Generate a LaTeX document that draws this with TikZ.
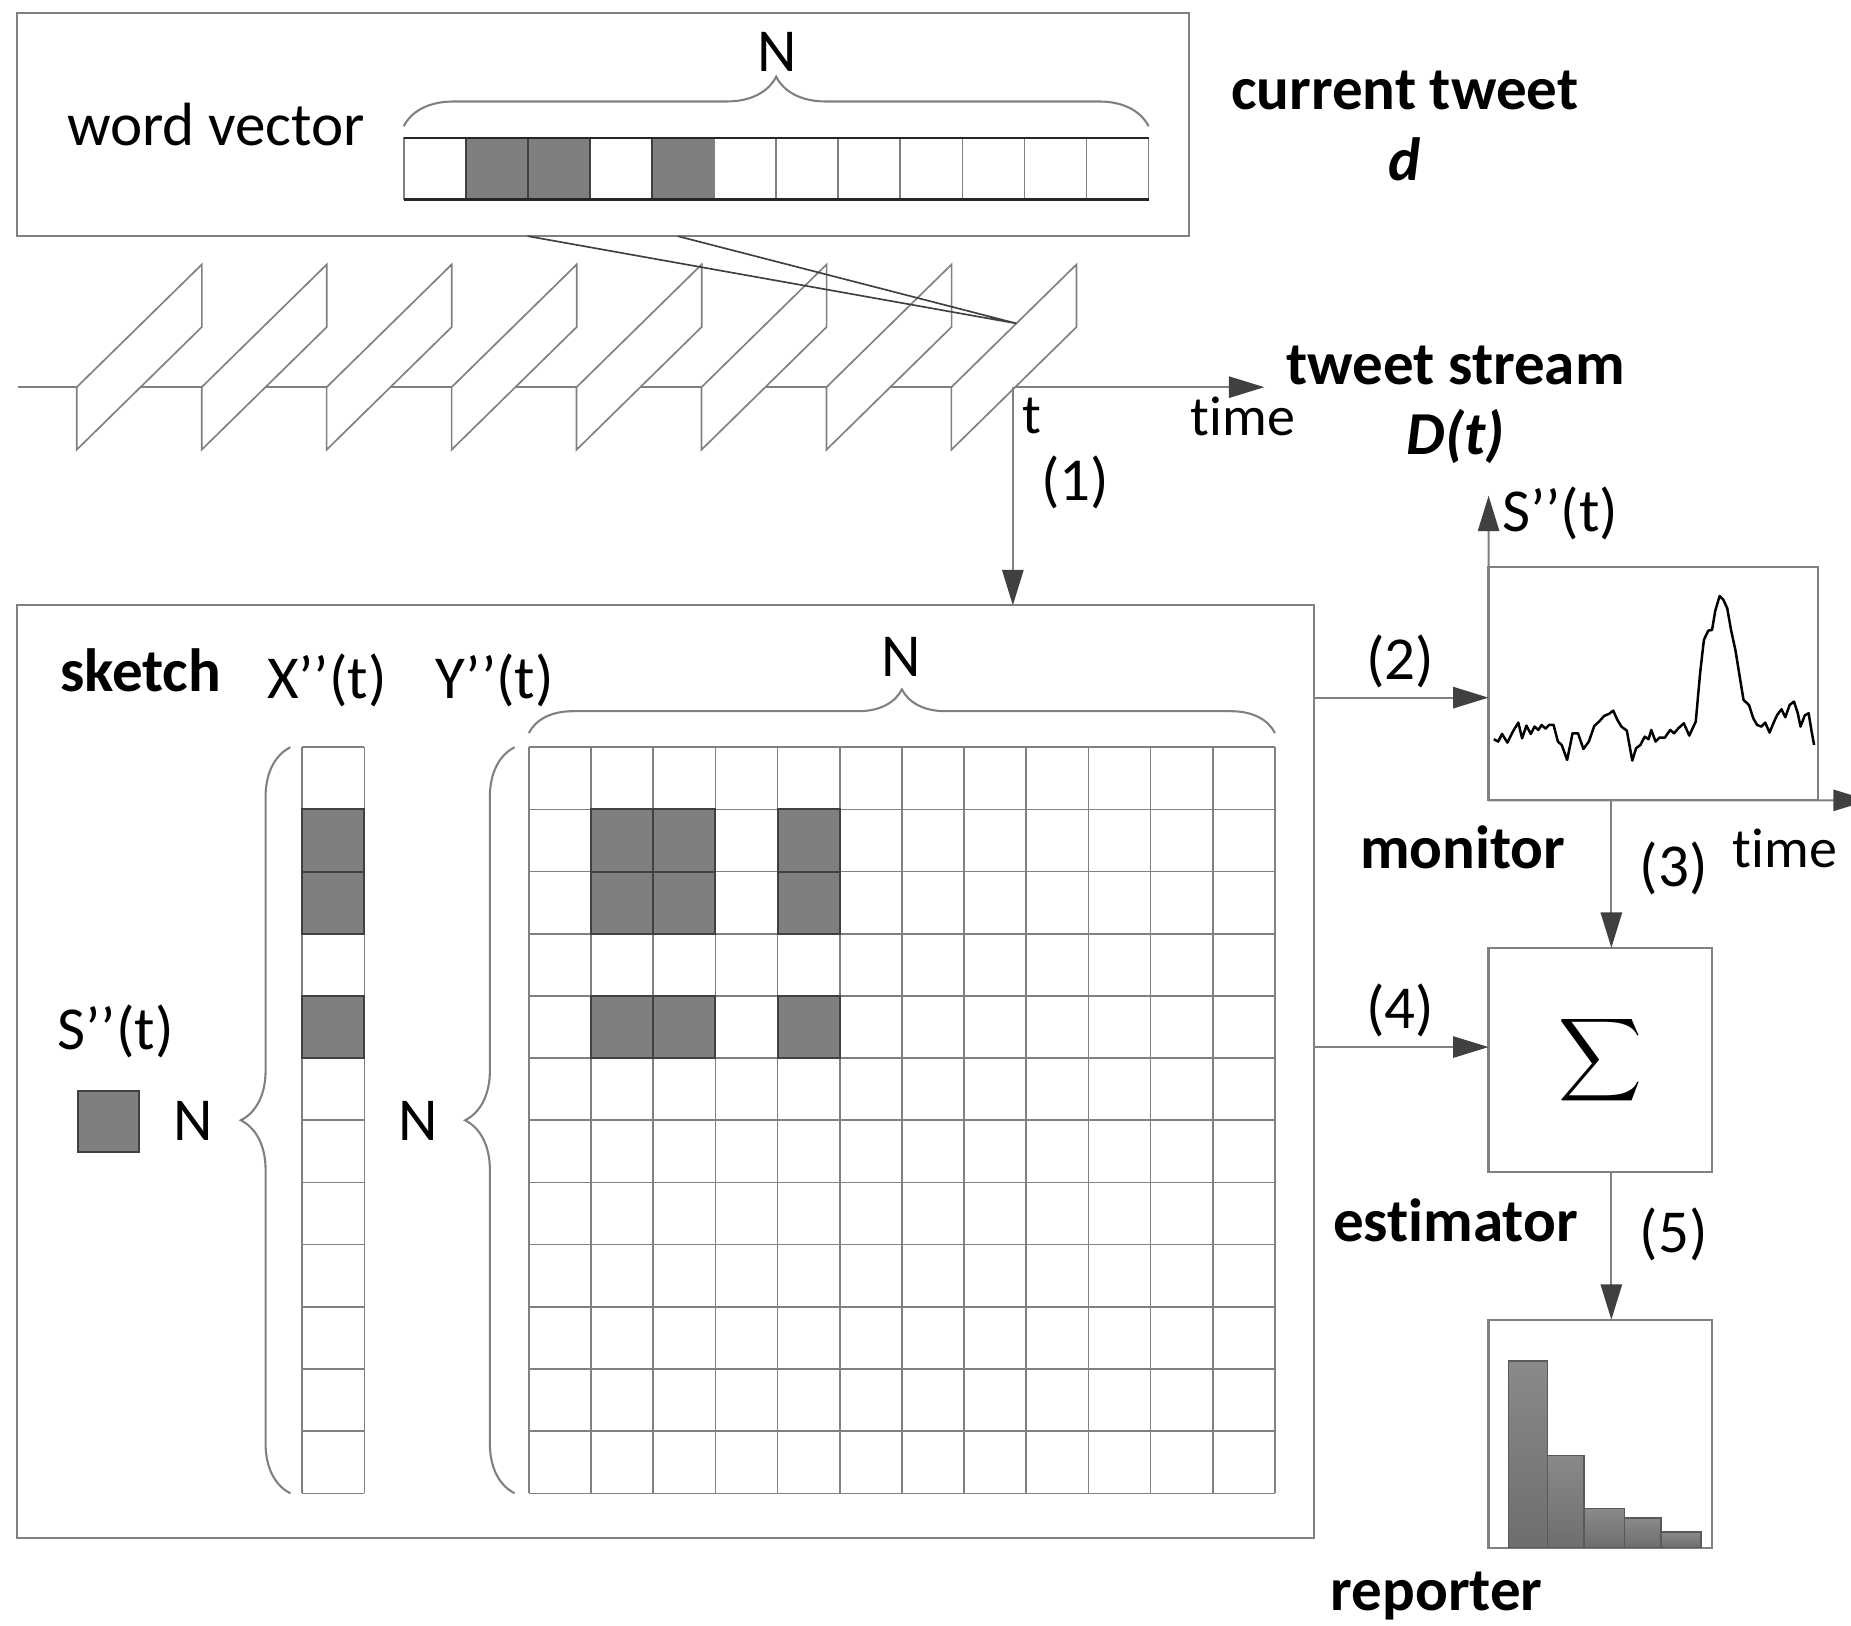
\documentclass[tikz,border=0pt]{standalone}
\usepackage{fontspec}
\setmainfont{Carlito}[Ligatures={NoCommon}]
\usepackage{tikz}
\usetikzlibrary{arrows.meta,positioning,decorations.pathreplacing}
\definecolor{linegray}{HTML}{808080}
\definecolor{cellgray}{HTML}{7F7F7F}
\definecolor{celledge}{HTML}{595959}
\definecolor{tipgray}{HTML}{404040}
\newcommand{\figtxt}{\fontsize{14.7}{17}\selectfont}
\newcommand{\figsmall}{\fontsize{13.5}{16}\selectfont}

\begin{document}
\begin{tikzpicture}[
    x=0.01cm, y=-0.01cm,
    box/.style={draw=linegray, line width=0.5pt, fill=white, inner sep=0pt, outer sep=0pt},
    txt/.style={font=\figtxt, inner sep=0pt, anchor=base},
    ttl/.style={font=\figtxt\bfseries, inner sep=0pt, anchor=base},
    tm/.style={font=\figsmall, inner sep=0pt, anchor=base},
    arr/.style={draw=linegray, line width=0.5pt, -{Triangle[length=3mm,width=1.8mm,color=tipgray]}},
    gline/.style={draw=linegray, line width=0.4pt},
    shd/.style={fill=cellgray, draw=tipgray, line width=0.5pt},
    brc/.style={draw=linegray, line width=0.5pt, decorate, decoration={brace, amplitude=#1}},
    panel/.style={fill=white, draw=linegray, line width=0.4pt},
    bar/.style={draw=celledge, line width=0.4pt, top color=black!46, bottom color=black!57}
]
\useasboundingbox (0,0) rectangle (1568,1377);

% current tweet
\node[box, minimum width=99.2mm, minimum height=18.9mm] (tweet) at (511,105.5) {};
\node[txt] (wv) at (183,123) {word vector};
\foreach \c in {1,2,4}
    \filldraw[shd] (342+52.58*\c,117) rectangle ++(52.58,52);
\foreach \c in {5,...,11}
    \draw[gline] (342+52.58*\c,117) -- ++(0,52);
\draw[gline] (342,117) rectangle (973,169);
\draw[black!85, line width=0.5pt] (342,117) -- (973,117) (342,169) -- (973,169);
\draw[brc=4.2mm] (342,107) -- (973,107);
\node[txt] (nwv) at (658,61) {N};
\node[ttl] (curt) at (1190,93) {current tweet};
\node[ttl, font=\figtxt\bfseries\itshape] (dd) at (1190,153) {d};

% tweet stream
\coordinate (tnow) at (858,328);
\draw[arr] (15,328) -- (1071,328);
\foreach \i in {0,...,7}
    \filldraw[panel] (65+105.85*\i,328) -- ++(106,-104) -- ++(0,53) -- ++(-106,104) -- cycle;
\coordinate (cur) at (861,274);
\draw[draw=tipgray, line width=0.4pt] ([xshift=43.2mm]tweet.south west) -- (cur) -- ([xshift=55.9mm]tweet.south west);
\node[tm] (tt) at (874,367) {t};
\node[tm] (time1) at (1053,369) {time};
\node[ttl] (strm) at (1233,326) {tweet stream};
\node[ttl, font=\figtxt\bfseries\itshape] (dt) at (1233,385) {D(t)};

% sketch
\node[box, minimum width=109.8mm, minimum height=79mm] (sketch) at (564,908) {};
\draw[arr] (tnow) -- (tnow |- sketch.north);
\node[txt] (l1) at (911,424) {(1)};
\node[ttl] (skt) at (119,586) {sketch};
\node[txt] (xl) at (277,592) {X’’(t)};
\node[txt] (yl) at (419,592) {Y’’(t)};
\node[txt] (sl) at (98,889) {S’’(t)};
\filldraw[fill=cellgray, draw=tipgray, line width=0.5pt] (66,924) rectangle (118,976);
\node[txt] (n1) at (164,966) {N};
\node[txt] (n2) at (354,966) {N};
\node[txt] (n3) at (763,573) {N};

% X'' column
\foreach \r in {0,...,12}
    \draw[gline] (256,633+52.67*\r) -- ++(52.67,0);
\draw[gline] (256,633) -- (256,1265) (308.67,633) -- (308.67,1265);
\foreach \r in {1,2,4}
    \filldraw[shd] (256,633+52.67*\r) rectangle ++(52.67,52.67);
\draw[brc=4.2mm] (246,1265) -- (246,633);

% Y'' grid
\foreach \i in {0,...,12} {
    \draw[gline] (448+52.67*\i,633) -- ++(0,632);
    \draw[gline] (448,633+52.67*\i) -- ++(632,0);
}
\foreach \r in {1,2,4}
    \foreach \c in {1,2,4}
        \filldraw[shd] (448+52.67*\c,633+52.67*\r) rectangle ++(52.67,52.67);
\draw[brc=4.2mm] (436,1265) -- (436,633);
\draw[brc=3.7mm] (448,621) -- (1080,621);

% monitor
\node[box, minimum width=27.9mm, minimum height=19.8mm] (mon) at (1400.5,579) {};
\coordinate (yax) at (1261,420);
\coordinate (xax) at (1583,678);
\draw[arr] (mon.south west) -- (yax);
\draw[arr] (mon.south west) -- (xax);
\begin{scope}[shift={(847.1,372.7)}, xscale=0.45975, yscale=0.28237]
\draw[black, line width=0.6pt, line join=round] plot coordinates {
 (910,898) (918,905) (925,882) (935,908) (945,875) (955,848) (962,895) (970,857)
 (978,882) (985,860) (992,870) (998,855) (1005,866) (1012,855) (1020,855) (1028,905)
 (1035,915) (1045,960) (1055,880) (1065,880) (1075,927) (1085,905) (1095,858) (1105,843)
 (1113,828) (1122,822) (1130,812) (1137,838) (1145,860) (1155,872) (1165,962) (1172,925)
 (1180,915) (1188,890) (1195,898) (1200,870) (1208,905) (1215,893) (1225,893) (1235,870)
 (1242,880) (1250,865) (1260,850) (1270,887) (1282,845) (1290,700) (1297,600) (1305,572)
 (1312,570) (1318,512) (1326,468) (1333,480) (1340,505) (1347,570) (1355,630) (1362,700)
 (1370,780) (1380,795) (1388,835) (1395,855) (1403,860) (1410,848) (1418,878) (1425,850)
 (1432,825) (1440,808) (1447,832) (1455,795) (1463,785) (1470,820) (1475,860) (1483,826)
 (1490,820) (1495,870) (1500,915)};
\end{scope}
\node[txt] (sm) at (1322,450) {S’’(t)};
\node[ttl] (monl) at (1239,736) {monitor};
\node[tm] (time2) at (1512,735) {time};
\coordinate (y2) at (0,591);
\draw[arr] (sketch.east |- y2) -- (mon.west |- y2);
\node[txt] (l2) at (1186,576) {(2)};

% estimator
\node[box, minimum width=18.9mm, minimum height=19mm] (est) at (1355.5,898) {\scalebox{1.4}{$\displaystyle\sum$}};
\coordinate (a3) at ([xshift=0.95mm]est.north);
\draw[arr] (a3 |- mon.south) -- (a3);
\node[txt] (l3) at (1418,751) {(3)};
\coordinate (y4) at (0,887);
\draw[arr] (sketch.east |- y4) -- (est.west |- y4);
\node[txt] (l4) at (1186,871) {(4)};
\node[ttl] (estl) at (1233,1052) {estimator};

% reporter
\node[box, minimum width=18.9mm, minimum height=19.3mm] (rep) at (1355.5,1214.5) {};
\coordinate (a5) at ([xshift=0.95mm]rep.north);
\draw[arr] (a5 |- est.south) -- (a5);
\node[txt] (l5) at (1418,1061) {(5)};
\draw[bar] (1278,1153) rectangle (1311,1311);
\draw[bar] (1311,1233) rectangle (1342,1311);
\draw[bar] (1342,1278) rectangle (1376,1311);
\draw[bar] (1376,1286) rectangle (1407,1311);
\draw[bar] (1407,1298) rectangle (1441,1311);
\node[ttl] (repl) at (1217,1364) {reporter};
\end{tikzpicture}
\end{document}
